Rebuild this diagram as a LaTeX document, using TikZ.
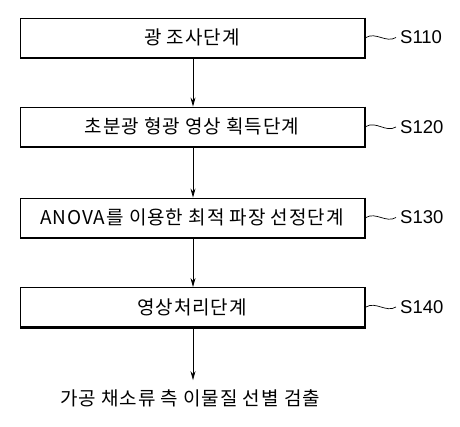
\documentclass[tikz,border=0pt]{standalone}
\usepackage{fontspec}
\setmainfont{Liberation Sans}
\newfontfamily\kr[LetterSpace=5]{Noto Sans CJK KR}
\usetikzlibrary{arrows.meta}
\begin{document}
\begin{tikzpicture}[x=1pt,y=-1pt,
  stepbox/.style={draw, line width=0.9pt, fill=white, minimum width=344pt, minimum height=39pt, inner sep=0pt, font=\kr\fontsize{19}{19}\selectfont},
  shadowline/.style={line width=1.3pt},
  flow/.style={line width=0.8pt, -{Stealth[length=9pt,width=5pt]}},
  tag/.style={font=\fontsize{18.5}{18.5}\selectfont, anchor=west, inner sep=0pt},
  squig/.style={line width=0.7pt}]
\useasboundingbox (0,0) rectangle (460,427);
\node[stepbox] (b1) at (192,37.5) {광 조사단계};
\node[stepbox] (b2) at (192,126.5) {초분광 형광 영상 획득단계};
\node[stepbox] (b3) at (192,217.5) {ANOVA를 이용한 최적 파장 선정단계};
\node[stepbox] (b4) at (192,307) {영상처리단계};
\node[font=\kr\fontsize{19}{19}\selectfont, inner sep=0pt] (out) at (190,398) {가공 채소류 측 이물질 선별 검출};
\foreach \b in {b1,b2,b3,b4}{
  \draw[shadowline] ([shift={(1.1pt,0pt)}]\b.north east) -- ([shift={(1.1pt,-1.1pt)}]\b.south east) -- ([shift={(0pt,-1.1pt)}]\b.south west);
}
\node[tag] (l1) at (400,37.5) {S110};
\node[tag] (l2) at (400,127) {S120};
\node[tag] (l3) at (400,217.5) {S130};
\node[tag] (l4) at (400,307) {S140};
\foreach \b/\l in {b1/l1,b2/l2,b3/l3,b4/l4}{
  \draw[squig] ([xshift=1.5pt]\b.east) .. controls +(10pt,6pt) and +(-10pt,-6pt) .. ([xshift=-4pt]\l.west);
}
\coordinate (x1) at (193,0);
\draw[flow] (b1.south -| x1) -- (b2.north -| x1);
\draw[flow] (b2.south -| x1) -- (b3.north -| x1);
\draw[flow] (b3.south -| x1) -- (b4.north -| x1);
\draw[flow] (b4.south -| x1) -- ([yshift=9pt]out.north -| x1);
\end{tikzpicture}
\end{document}
